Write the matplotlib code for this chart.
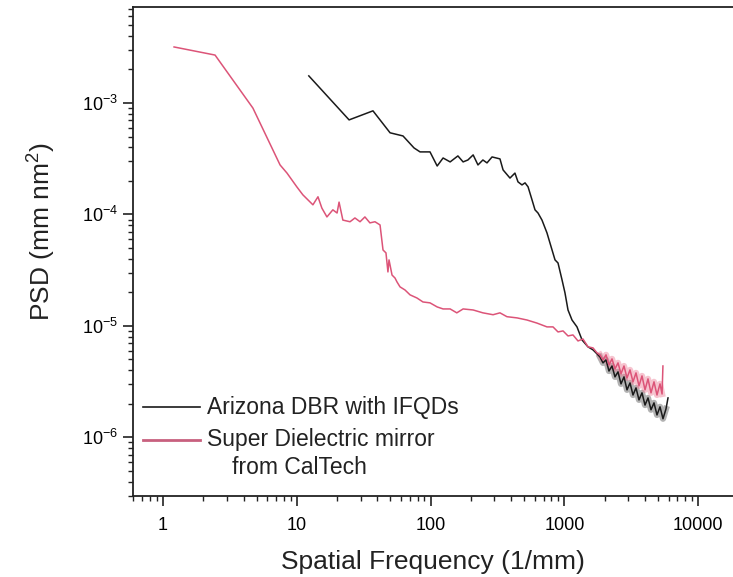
import matplotlib
matplotlib.use("Agg")
import matplotlib.pyplot as plt
from matplotlib.ticker import LogLocator, NullFormatter

plt.rcParams['font.family'] = ['Liberation Sans', 'DejaVu Sans']
plt.rcParams['mathtext.fontset'] = 'custom'
plt.rcParams['mathtext.rm'] = 'Liberation Sans'
plt.rcParams['mathtext.it'] = 'Liberation Sans'

# Arizona DBR with IFQDs (black)
az_freq = [12.3, 24.6, 37.1, 49.8, 62.2, 75.2, 83.4, 99, 112, 124, 140, 160, 175, 190,
           208, 226, 246, 264, 288, 330, 348, 392, 427, 450, 482, 508, 535, 573, 603,
           635, 680, 741, 780, 851, 896, 960, 1010, 1064, 1140, 1242, 1355, 1501, 1636,
           1845, 1943, 2047, 2154, 2269, 2389, 2516, 2649, 2789, 2937, 3093, 3256, 3429,
           3610, 3802, 4004, 4215, 4439, 4674, 4921, 5183, 5456, 5745, 5947]
az_psd = [1.75e-3, 7.05e-4, 8.5e-4, 5.4e-4, 5.06e-4, 3.95e-4, 3.64e-4, 3.64e-4, 2.72e-4,
          3.21e-4, 2.96e-4, 3.35e-4, 2.96e-4, 3.08e-4, 3.42e-4, 2.78e-4, 3.08e-4, 2.90e-4,
          3.28e-4, 3.15e-4, 2.51e-4, 2.12e-4, 2.35e-4, 1.96e-4, 1.84e-4, 1.92e-4, 1.77e-4,
          1.35e-4, 1.10e-4, 1.03e-4, 8.9e-5, 6.83e-5, 5.55e-5, 3.91e-5, 3.67e-5, 2.59e-5,
          1.98e-5, 1.39e-5, 1.13e-5, 9.8e-6, 7.48e-6, 6.49e-6, 6.10e-6,
          5.27e-6, 4.66e-6, 4.96e-6, 3.94e-6, 4.37e-6, 3.49e-6, 3.87e-6, 3.02e-6, 3.49e-6,
          2.67e-6, 3.08e-6, 2.40e-6, 2.78e-6, 2.17e-6, 2.51e-6, 1.95e-6, 2.26e-6, 1.77e-6,
          2.04e-6, 1.59e-6, 1.88e-6, 1.47e-6, 1.80e-6, 2.26e-6]

# Super Dielectric mirror from CalTech (pink)
ct_freq = [1.21, 2.45, 4.7, 7.5, 8.45, 10.0, 11.1, 13.2, 14.4, 15.4, 16.8, 18.6, 20.0, 20.7,
           22.1, 25.0, 27.2, 29.7, 32.3, 35.2, 38.4, 41.9, 44.1, 46.4, 48.0, 48.9, 51.5,
           54.2, 56.1, 59.1, 64.4, 70.2, 79.1, 87.7, 99, 112, 124, 140, 157, 175, 208, 246,
           293, 330, 372, 443, 525, 624, 741, 822, 896, 977, 1064, 1159, 1264, 1377, 1501,
           1636, 1753, 1845, 1943, 2047, 2154, 2269, 2389, 2516, 2649, 2789, 2937, 3093,
           3256, 3429, 3610, 3802, 4004, 4215, 4439, 4674, 4921, 5183, 5370, 5450]
ct_psd = [3.18e-3, 2.69e-3, 9.0e-4, 2.78e-4, 2.35e-4, 1.77e-4, 1.50e-4, 1.22e-4, 1.44e-4,
          1.14e-4, 9.5e-5, 1.10e-4, 1.03e-4, 1.29e-4, 8.9e-5, 8.6e-5, 9.3e-5, 8.6e-5, 9.5e-5,
          8.4e-5, 8.6e-5, 8.05e-5, 4.8e-5, 4.52e-5, 3.05e-5, 3.91e-5, 2.86e-5, 2.69e-5,
          2.48e-5, 2.24e-5, 2.10e-5, 1.90e-5, 1.78e-5, 1.64e-5, 1.61e-5, 1.48e-5, 1.42e-5,
          1.42e-5, 1.31e-5, 1.42e-5, 1.39e-5, 1.31e-5, 1.26e-5, 1.31e-5, 1.21e-5, 1.18e-5,
          1.13e-5, 1.06e-5, 9.8e-6, 9.8e-6, 8.83e-6, 9.02e-6, 8.13e-6, 8.3e-6, 7.33e-6,
          7.63e-6, 6.49e-6, 6.35e-6, 5.73e-6, 5.50e-6, 4.96e-6, 5.50e-6, 4.47e-6, 5.06e-6,
          4.11e-6, 4.66e-6, 3.72e-6, 4.37e-6, 3.42e-6, 4.03e-6, 3.15e-6, 3.79e-6, 2.90e-6,
          3.56e-6, 2.67e-6, 3.35e-6, 2.51e-6, 3.15e-6, 2.40e-6, 3.02e-6, 2.45e-6, 4.37e-6]

legend_labels = ["Arizona DBR with IFQDs", "Super Dielectric mirror", "from CalTech"]
x_ticks = [1, 10, 100, 1000, 10000]
x_tick_labels = ["1", "10", "100", "1000", "10000"]

BLACK = '#1a1a1a'
PINK = '#dc5478'

fig = plt.figure(figsize=(7.33, 5.77), dpi=100)
ax = fig.add_axes([133/733, 1-496/577, 1-133/733, (496-7)/577])

# noisy high-frequency tails rendered as soft bands underneath the lines
az_tail = az_freq.index(1845)
ct_tail = ct_freq.index(1845)
ax.plot(az_freq[az_tail:-1], az_psd[az_tail:-1], color='#555555', lw=4.5, alpha=0.45,
        solid_joinstyle='round')
ax.plot(ct_freq[ct_tail:-1], ct_psd[ct_tail:-1], color='#ec7c95', lw=4.5, alpha=0.45,
        solid_joinstyle='round')

ax.plot(az_freq, az_psd, color=BLACK, lw=1.1)
ax.plot(ct_freq, ct_psd, color=PINK, lw=1.1)

ax.set_xscale('log')
ax.set_yscale('log')
ax.set_xlim(0.597, 18200)
ax.set_ylim(2.98e-7, 7.26e-3)

ax.set_xticks(x_ticks)
ax.set_xticklabels(x_tick_labels)
ax.xaxis.set_minor_locator(LogLocator(base=10, subs=range(2, 10), numticks=20))
ax.xaxis.set_minor_formatter(NullFormatter())
ax.yaxis.set_major_locator(LogLocator(base=10, numticks=20))
ax.yaxis.set_minor_locator(LogLocator(base=10, subs=range(2, 10), numticks=20))
ax.yaxis.set_minor_formatter(NullFormatter())

ax.tick_params(which='major', direction='out', length=7, width=1.2, labelsize=13, color='#222222')
ax.tick_params(which='minor', direction='out', length=3.5, width=1.0, color='#222222')
ax.tick_params(axis='x', which='major', pad=8)
ax.spines['right'].set_visible(False)
for s in ['left', 'bottom', 'top']:
    ax.spines[s].set_linewidth(1.3)
    ax.spines[s].set_color('#222222')

ax.set_xlabel("Spatial Frequency (1/mm)", fontsize=19, labelpad=12, color='#222222')
ax.set_ylabel("PSD (mm nm$^2$)", fontsize=19, color='#222222')
ax.yaxis.set_label_coords(-0.125, 0.54)

# legend drawn inside the axes (lower left)
ax.plot([0.017, 0.112], [0.181, 0.181], transform=ax.transAxes, color=BLACK, lw=1.2)
ax.plot([0.017, 0.112], [0.115, 0.115], transform=ax.transAxes, color='#c8607e', lw=2.0)
ax.text(0.123, 0.181, legend_labels[0], transform=ax.transAxes, fontsize=16.5,
        va='center', ha='left', color='#222222')
ax.text(0.123, 0.115, legend_labels[1], transform=ax.transAxes, fontsize=16.5,
        va='center', ha='left', color='#222222')
ax.text(0.165, 0.058, legend_labels[2], transform=ax.transAxes, fontsize=16.5,
        va='center', ha='left', color='#222222')

fig.savefig("out.png", dpi=100)
